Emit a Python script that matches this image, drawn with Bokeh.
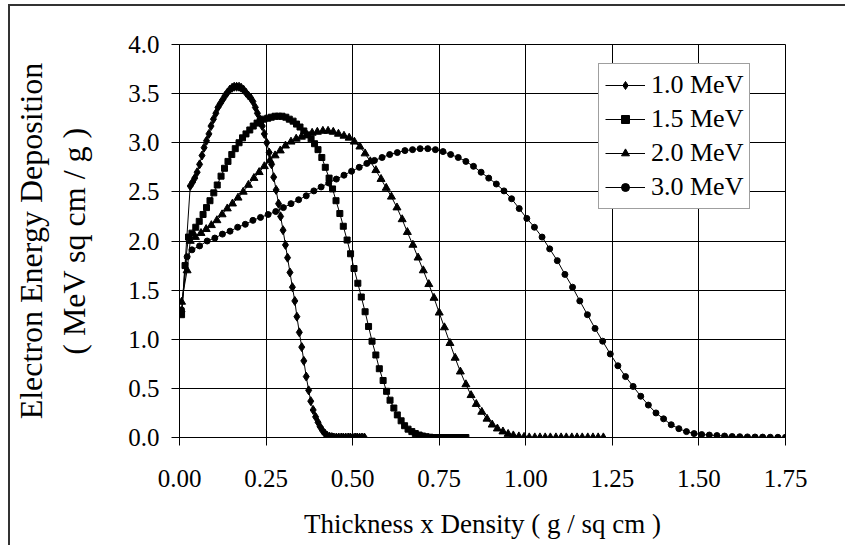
from bokeh.plotting import figure
from bokeh.models import Range1d, FixedTicker, NumeralTickFormatter, Legend, LegendItem
from bokeh.embed import file_html
from bokeh.resources import INLINE

# ---------------- data ----------------
series_labels = ["1.0 MeV", "1.5 MeV", "2.0 MeV", "3.0 MeV"]

x_10 = [0.007, 0.031, 0.038, 0.044, 0.051, 0.058, 0.065, 0.071, 0.078, 0.085, 0.091,
        0.098, 0.105, 0.111, 0.118, 0.125, 0.132, 0.138, 0.145, 0.152, 0.158,
        0.165, 0.172, 0.178, 0.185, 0.192, 0.199, 0.205, 0.212, 0.219, 0.225,
        0.232, 0.239, 0.245, 0.252, 0.259, 0.266, 0.272, 0.279, 0.286, 0.292,
        0.299, 0.306, 0.312, 0.319, 0.326, 0.333, 0.339, 0.346, 0.353, 0.359,
        0.366, 0.373, 0.379, 0.386, 0.393, 0.400, 0.406, 0.413, 0.420, 0.426,
        0.433, 0.440, 0.446, 0.453, 0.460, 0.467, 0.473, 0.480, 0.487, 0.493,
        0.500, 0.507, 0.513, 0.520, 0.527, 0.534]
y_10 = [1.28, 2.56, 2.60, 2.64, 2.70, 2.78, 2.87, 2.95, 3.02, 3.09, 3.17,
        3.24, 3.30, 3.36, 3.40, 3.44, 3.48, 3.51, 3.54, 3.56, 3.57,
        3.57, 3.57, 3.56, 3.54, 3.51, 3.48, 3.46, 3.42, 3.36, 3.30,
        3.24, 3.17, 3.09, 3.00, 2.90, 2.78, 2.65, 2.52, 2.38, 2.25,
        2.11, 1.96, 1.83, 1.68, 1.53, 1.39, 1.23, 1.07, 0.92, 0.78,
        0.62, 0.48, 0.37, 0.28, 0.21, 0.155, 0.11, 0.07, 0.04, 0.02,
        0.01, 0.004, 0.0, 0.0, 0.0, 0.0, 0.0, 0.0, 0.0, 0.0,
        0.0, 0.0, 0.0, 0.0, 0.0, 0.0]

x_15 = [0.006, 0.016, 0.026, 0.036, 0.047, 0.057, 0.068, 0.078, 0.088, 0.099, 0.109, 0.120,
        0.130, 0.140, 0.151, 0.161, 0.172, 0.182, 0.192, 0.203, 0.213, 0.224,
        0.234, 0.244, 0.255, 0.265, 0.276, 0.286, 0.296, 0.307, 0.317, 0.328,
        0.338, 0.348, 0.359, 0.369, 0.380, 0.390, 0.400, 0.411, 0.421, 0.432,
        0.442, 0.452, 0.463, 0.473, 0.484, 0.494, 0.504, 0.515, 0.525, 0.536,
        0.546, 0.556, 0.567, 0.577, 0.588, 0.598, 0.608, 0.619, 0.629, 0.640,
        0.650, 0.660, 0.671, 0.681, 0.692, 0.702, 0.712, 0.723, 0.733, 0.744,
        0.754, 0.764, 0.775, 0.785, 0.796, 0.806, 0.816, 0.827]
y_15 = [1.25, 1.75, 2.04, 2.08, 2.14, 2.20, 2.27, 2.34, 2.41, 2.49, 2.57, 2.66,
        2.74, 2.81, 2.88, 2.94, 3.00, 3.05, 3.09, 3.13, 3.17, 3.20,
        3.22, 3.24, 3.25, 3.26, 3.27, 3.27, 3.27, 3.26, 3.24, 3.22,
        3.19, 3.16, 3.12, 3.08, 3.04, 2.99, 2.93, 2.85, 2.75, 2.64,
        2.53, 2.41, 2.28, 2.15, 2.01, 1.87, 1.72, 1.57, 1.43, 1.28,
        1.13, 0.98, 0.84, 0.70, 0.58, 0.47, 0.38, 0.30, 0.23, 0.17,
        0.12, 0.085, 0.06, 0.04, 0.025, 0.015, 0.008, 0.003, 0.0, 0.0,
        0.0, 0.0, 0.0, 0.0, 0.0, 0.0, 0.0, 0.0]

x_20 = [0.006, 0.022, 0.031, 0.046, 0.062, 0.077, 0.092, 0.108, 0.123, 0.138, 0.153, 0.169,
        0.184, 0.199, 0.215, 0.230, 0.245, 0.261, 0.276, 0.291, 0.306, 0.322,
        0.337, 0.352, 0.368, 0.383, 0.398, 0.414, 0.429, 0.444, 0.459, 0.475,
        0.490, 0.505, 0.521, 0.536, 0.551, 0.567, 0.582, 0.597, 0.612, 0.628,
        0.643, 0.658, 0.674, 0.689, 0.704, 0.720, 0.735, 0.750, 0.765, 0.781,
        0.796, 0.811, 0.827, 0.842, 0.857, 0.873, 0.888, 0.903, 0.918, 0.934,
        0.949, 0.964, 0.980, 0.995, 1.010, 1.026, 1.041, 1.056, 1.071, 1.087,
        1.102, 1.117, 1.133, 1.148, 1.163, 1.179, 1.194, 1.209, 1.224]
y_20 = [1.38, 1.70, 2.00, 2.04, 2.08, 2.12, 2.16, 2.21, 2.27, 2.33, 2.38, 2.44,
        2.50, 2.57, 2.64, 2.70, 2.76, 2.82, 2.87, 2.92, 2.97, 3.01,
        3.04, 3.06, 3.08, 3.10, 3.11, 3.12, 3.12, 3.11, 3.09, 3.07,
        3.05, 3.01, 2.96, 2.89, 2.81, 2.72, 2.63, 2.54, 2.45, 2.34,
        2.22, 2.09, 1.96, 1.83, 1.70, 1.56, 1.42, 1.27, 1.12, 0.96,
        0.81, 0.67, 0.54, 0.43, 0.34, 0.26, 0.19, 0.13, 0.09, 0.06,
        0.035, 0.02, 0.01, 0.005, 0.0, 0.0, 0.0, 0.0, 0.0, 0.0,
        0.0, 0.0, 0.0, 0.0, 0.0, 0.0, 0.0, 0.0, 0.0]

x_30 = [0.006, 0.022, 0.036, 0.058, 0.080, 0.102, 0.124, 0.146, 0.168, 0.190, 0.212, 0.234,
        0.256, 0.278, 0.300, 0.322, 0.344, 0.366, 0.388, 0.409, 0.431, 0.453,
        0.475, 0.497, 0.519, 0.541, 0.563, 0.585, 0.607, 0.629, 0.651, 0.673,
        0.695, 0.717, 0.739, 0.761, 0.783, 0.805, 0.827, 0.849, 0.871, 0.893,
        0.915, 0.937, 0.959, 0.981, 1.003, 1.025, 1.047, 1.069, 1.091, 1.113,
        1.135, 1.156, 1.178, 1.200, 1.222, 1.244, 1.266, 1.288, 1.310, 1.332,
        1.354, 1.376, 1.398, 1.420, 1.442, 1.464, 1.486, 1.508, 1.530, 1.552,
        1.574, 1.596, 1.618, 1.640, 1.662, 1.684, 1.706, 1.728, 1.750]
y_30 = [1.30, 1.84, 1.91, 1.95, 2.00, 2.03, 2.07, 2.10, 2.14, 2.17, 2.21, 2.24,
        2.27, 2.30, 2.34, 2.38, 2.42, 2.46, 2.51, 2.55, 2.59, 2.63,
        2.67, 2.71, 2.75, 2.79, 2.82, 2.85, 2.88, 2.90, 2.92, 2.93,
        2.94, 2.94, 2.93, 2.91, 2.88, 2.85, 2.81, 2.76, 2.70, 2.64,
        2.58, 2.51, 2.43, 2.33, 2.23, 2.14, 2.04, 1.92, 1.80, 1.66,
        1.53, 1.39, 1.25, 1.11, 0.98, 0.85, 0.73, 0.62, 0.52, 0.42,
        0.33, 0.25, 0.19, 0.13, 0.09, 0.06, 0.04, 0.03, 0.025, 0.02,
        0.015, 0.01, 0.008, 0.006, 0.005, 0.004, 0.003, 0.002, 0.002]

x_ticks = [0.0, 0.25, 0.5, 0.75, 1.0, 1.25, 1.5, 1.75]
y_ticks = [0.0, 0.5, 1.0, 1.5, 2.0, 2.5, 3.0, 3.5, 4.0]

# ---------------- figure ----------------
FONT = "Liberation Serif"

p = figure(frame_width=606, frame_height=393,
           min_border_left=169, min_border_right=60, min_border_top=38, min_border_bottom=108,
           x_range=Range1d(0, 1.75), y_range=Range1d(0, 4),
           output_backend="svg", toolbar_location=None)
p.margin = (4, 0, 0, 8)
p.styles = {"border-left": "2px solid #333333", "border-top": "2px solid #333333"}

p.background_fill_color = "white"
p.border_fill_color = "white"
p.outline_line_color = "black"
p.outline_line_width = 1

for ax in (p.xaxis[0], p.yaxis[0]):
    ax.axis_line_color = "black"
    ax.major_tick_line_color = "black"
    ax.major_tick_out = 8
    ax.major_tick_in = 0
    ax.minor_tick_line_color = None
    ax.major_label_text_font = FONT
    ax.major_label_text_font_size = "25px"
    ax.major_label_text_color = "black"
    ax.axis_label_text_font = FONT
    ax.axis_label_text_font_style = "normal"
    ax.axis_label_text_color = "black"

p.xaxis.ticker = FixedTicker(ticks=x_ticks)
p.xaxis.formatter = NumeralTickFormatter(format="0.00")
p.xaxis.major_label_standoff = 24
p.xaxis.axis_label = "Thickness x Density ( g / sq cm )"
p.xaxis.axis_label_text_font_size = "27px"
p.xaxis.axis_label_standoff = 19

p.yaxis.ticker = FixedTicker(ticks=y_ticks)
p.yaxis.formatter = NumeralTickFormatter(format="0.0")
p.yaxis.major_label_standoff = 12
p.yaxis.axis_label = "Electron Energy Deposition\n( MeV sq cm / g )"
p.yaxis.axis_label_text_font_size = "32px"
p.yaxis.axis_label_standoff = 33

p.xgrid.ticker = FixedTicker(ticks=x_ticks)
p.ygrid.ticker = FixedTicker(ticks=y_ticks)
p.xgrid.grid_line_color = "black"
p.ygrid.grid_line_color = "black"
p.xgrid.grid_line_width = 1
p.ygrid.grid_line_width = 1

series = [(x_10, y_10, "diamond", 9),
          (x_15, y_15, "square", 6),
          (x_20, y_20, "triangle", 8),
          (x_30, y_30, "circle", 6)]

items = []
for (xs, ys, mk, sz), lab in zip(series, series_labels):
    ln = p.line(xs, ys, line_color="black", line_width=1)
    sc = p.scatter(xs, ys, marker=mk, size=sz, fill_color="black", line_color="black")
    items.append(LegendItem(label=lab, renderers=[ln, sc]))

legend = Legend(items=items, location=(419, 228))
legend.label_text_font = FONT
legend.label_text_font_size = "26px"
legend.label_text_color = "black"
legend.border_line_color = "#404040"
legend.border_line_width = 1
legend.background_fill_color = "white"
legend.background_fill_alpha = 1.0
legend.padding = 6
legend.spacing = 4
legend.margin = 0
legend.glyph_width = 40
legend.label_standoff = 6
p.add_layout(legend)

open("out.html", "w").write(file_html(p, INLINE))
